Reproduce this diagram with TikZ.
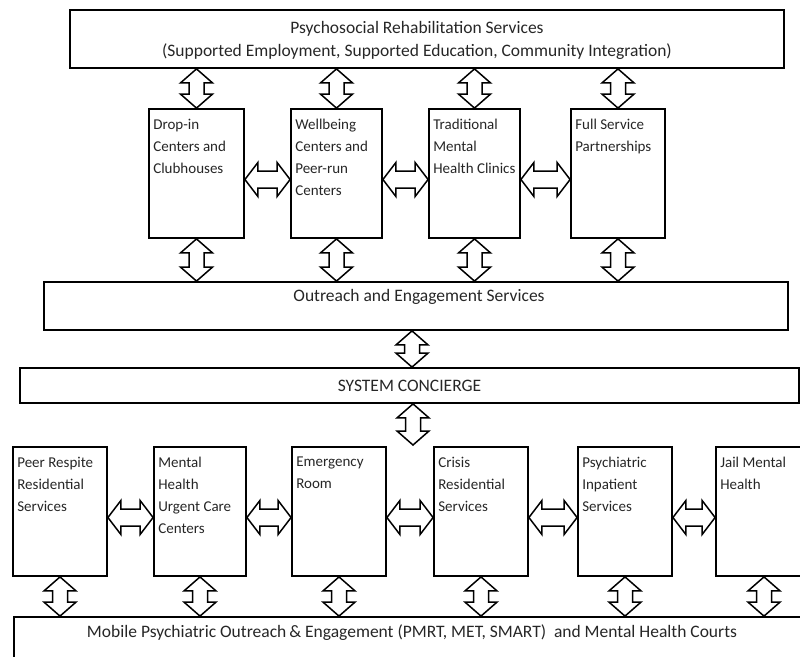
\documentclass[tikz,border=0pt]{standalone}
\usepackage{fontspec}
\setmainfont{Carlito}
\usetikzlibrary{calc}

% hollow double arrows, first point top/left, second bottom/right
\newcommand\vboth[2]{\draw[fatarrow] let \p1=(#1), \p2=(#2) in
  (\x1,\y1) -- (\x1+16pt,\y1-14pt) -- (\x1+7.5pt,\y1-14pt) -- (\x1+7.5pt,\y2+14pt)
  -- (\x1+16pt,\y2+14pt) -- (\x1,\y2) -- (\x1-16pt,\y2+14pt) -- (\x1-7.5pt,\y2+14pt)
  -- (\x1-7.5pt,\y1-14pt) -- (\x1-16pt,\y1-14pt) -- cycle;}
\newcommand\hboth[2]{\draw[fatarrow] let \p1=(#1), \p2=(#2) in
  (\x1,\y1) -- (\x1+13pt,\y1+17pt) -- (\x1+13pt,\y1+8.5pt) -- (\x2-13pt,\y1+8.5pt)
  -- (\x2-13pt,\y1+17pt) -- (\x2,\y1) -- (\x2-13pt,\y1-17pt) -- (\x2-13pt,\y1-8.5pt)
  -- (\x1+13pt,\y1-8.5pt) -- (\x1+13pt,\y1-17pt) -- cycle;}

\begin{document}
\begin{tikzpicture}[x=1pt,y=-1pt,
  font=\fontsize{15}{22}\selectfont,
  box/.style={draw, line width=1.8pt, inner sep=0pt, text=black!85},
  band/.style={box, font=\fontsize{17.5}{23}\selectfont},
  tall/.style={box, minimum height=129pt},
  tl/.style={anchor=north west, align=left, inner xsep=5pt, inner ysep=10.5pt, text=black!85},
  bandtext/.style={anchor=base, text=black!85, font=\fontsize{17.5}{23}\selectfont},
  fatarrow/.style={draw, line width=1.5pt, fill=white, line join=miter}]
\clip (0,0) rectangle (800,656);

\node[band, minimum width=714pt, minimum height=58pt] (psr) at (427,39) {};
\node[band, draw=none, align=center] (psrtext) at (417,40)
  {Psychosocial Rehabilitation Services\\(Supported Employment, Supported Education, Community Integration)};

\node[tall, minimum width=95pt, label={[tl]north west:Drop-in\\Centers and\\Clubhouses}] (dropin) at (196.5,173.5) {};
\node[tall, minimum width=91pt, label={[tl]north west:Wellbeing\\Centers and\\Peer-run\\Centers}] (wellbeing) at (336.5,173.5) {};
\node[tall, minimum width=91pt, label={[tl]north west:Traditional\\Mental\\Health Clinics}] (clinics) at (474.5,173.5) {};
\node[tall, minimum width=94pt, label={[tl]north west:Full Service\\Partnerships}] (fsp) at (618,173.5) {};

\node[box, minimum width=744pt, minimum height=48pt,
  label={[bandtext, yshift=-20.5pt, xshift=3pt]north:Outreach and Engagement Services}] (outreach) at (416,306) {};
\node[band, minimum width=779pt, minimum height=35pt] (concierge) at (409.5,385.5) {SYSTEM CONCIERGE};
\coordinate (entry) at (413,445);

\node[tall, minimum width=94pt, label={[tl]north west:Peer Respite\\Residential\\Services}] (peer) at (60,511.5) {};
\node[tall, minimum width=92pt, label={[tl]north west:Mental\\Health\\Urgent Care\\Centers}] (urgent) at (200,511.5) {};
\node[tall, minimum width=94pt, label={[tl]north west:Emergency\\Room}] (er) at (339,511.5) {};
\node[tall, minimum width=94pt, label={[tl]north west:Crisis\\Residential\\Services}] (crisis) at (481,511.5) {};
\node[tall, minimum width=94pt, label={[tl]north west:Psychiatric\\Inpatient\\Services}] (inpatient) at (625,511.5) {};
\node[tall, minimum width=96pt, label={[tl]north west:Jail Mental\\Health}] (jail) at (764,511.5) {};

\node[box, minimum width=796pt, minimum height=73pt,
  label={[bandtext, yshift=-21.5pt]north:{Mobile Psychiatric Outreach\,\& Engagement (PMRT, MET, SMART) \ and Mental Health Courts}}] (mobile) at (412,653.5) {};

% arrows
\foreach \b in {dropin,wellbeing,clinics,fsp}{
  \vboth{psr.south -| \b.north}{\b.north}
  \vboth{\b.south}{\b.south |- outreach.north}
}
\vboth{[xshift=-4pt]outreach.south}{concierge.north}
\vboth{concierge.south -| entry}{entry}
\foreach \b in {peer,urgent,er,crisis,inpatient,jail}
  \vboth{\b.south}{\b.south |- mobile.north};
\foreach \a/\b in {dropin/wellbeing,wellbeing/clinics,clinics/fsp,peer/urgent,urgent/er,er/crisis,crisis/inpatient,inpatient/jail}
  \hboth{[yshift=-6pt]\a.east}{\b.west};
\end{tikzpicture}
\end{document}
